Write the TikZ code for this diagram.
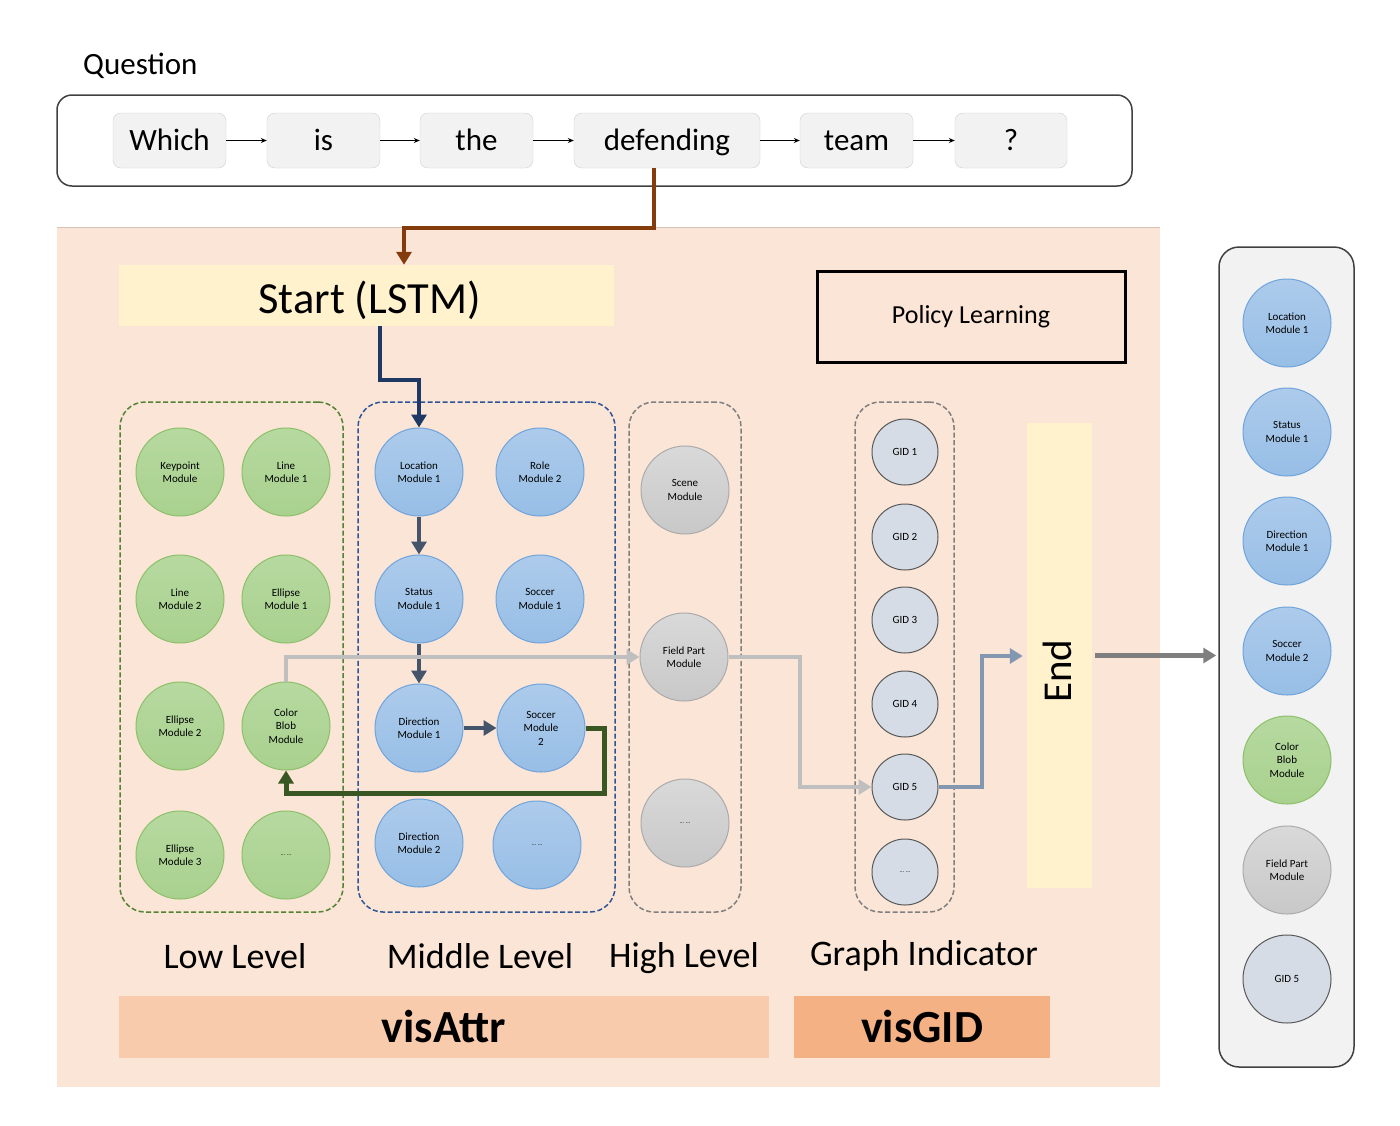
\documentclass[tikz,border=0pt]{standalone}
\usepackage{fontspec}
\setmainfont{Carlito}
\usetikzlibrary{arrows.meta,calc}
\definecolor{peach}{HTML}{FBE5D6}
\definecolor{lyellow}{HTML}{FFF2CC}
\definecolor{wordfill}{HTML}{F2F2F2}
\definecolor{wordline}{HTML}{D0D0D0}
\definecolor{qline}{HTML}{404040}
\definecolor{brownc}{HTML}{843C0C}
\definecolor{navyc}{HTML}{203864}
\definecolor{slatec}{HTML}{44546A}
\definecolor{greenc}{HTML}{385723}
\definecolor{lgray}{HTML}{BFBFBF}
\definecolor{bgray}{HTML}{8497B0}
\definecolor{dgray}{HTML}{7F7F7F}
\definecolor{gfill}{HTML}{A9D18E}
\definecolor{gfilltop}{HTML}{B6D9A0}
\definecolor{gline}{HTML}{8CC06A}
\definecolor{bfill}{HTML}{97BEE6}
\definecolor{bfilltop}{HTML}{ADCBEB}
\definecolor{bline}{HTML}{6FA4DC}
\definecolor{cfill}{HTML}{C8C8C8}
\definecolor{cfilltop}{HTML}{D9D9D9}
\definecolor{cline}{HTML}{ABABAB}
\definecolor{gidfill}{HTML}{D6DCE5}
\definecolor{gidline}{HTML}{595959}
\definecolor{dgreen}{HTML}{548235}
\definecolor{dblue}{HTML}{2F5597}
\definecolor{attrc}{HTML}{F8CBAD}
\definecolor{gidc}{HTML}{F4B183}
\definecolor{panelc}{HTML}{F2F2F2}
\begin{document}
\begin{tikzpicture}[x=1pt,y=-1pt,
  wordbox/.style={draw=wordline,fill=wordfill,rounded corners=8,minimum height=55,inner sep=0,text height=24,text depth=4,font=\fontsize{31}{36}\selectfont},
  warrow/.style={-{Stealth[length=6,width=5]},line width=1},
  modc/.style={circle,minimum size=88,inner sep=0,align=center,line width=1,font=\fontsize{11}{13.5}\selectfont},
  greenm/.style={modc,draw=gline,top color=gfilltop,bottom color=gfill},
  bluem/.style={modc,draw=bline,top color=bfilltop,bottom color=bfill},
  graym/.style={modc,draw=cline,top color=cfilltop,bottom color=cfill},
  gidm/.style={circle,minimum size=66,inner sep=0,draw=gidline,fill=gidfill,line width=1,font=\fontsize{11}{13}\selectfont},
  group/.style={rounded corners=25,dashed,dash pattern=on 5 off 2.5,line width=1.5,minimum height=510,inner sep=0},
  thickarrow/.style={line width=4,-{Triangle[length=13,width=15]}},
  lvl/.style={font=\fontsize{36}{42}\selectfont},
  barlbl/.style={font=\fontsize{46}{52}\selectfont\bfseries,inner sep=0,minimum height=62}
]
\useasboundingbox (0,0) rectangle (1400,1125);

% Question
\node[anchor=west,font=\fontsize{31}{36}\selectfont,inner sep=0] (qlabel) at (83,66) {Question};
\node[draw=qline,line width=1.5,rounded corners=15,fill=white,minimum width=1075,minimum height=91,inner sep=0] (qbox) at (594.5,140.5) {};
\node[wordbox,minimum width=113] (w1) at (169.5,140.5) {Which};
\node[wordbox,minimum width=113] (w2) at (323.5,140.5) {is};
\node[wordbox,minimum width=113] (w3) at (476.5,140.5) {the};
\node[wordbox,minimum width=186] (w4) at (667,140.5) {defending};
\node[wordbox,minimum width=113] (w5) at (856.5,140.5) {team};
\node[wordbox,minimum width=112] (w6) at (1011,140.5) {?};
\draw[warrow] (w1) -- (w2);
\draw[warrow] (w2) -- (w3);
\draw[warrow] (w3) -- (w4);
\draw[warrow] (w4) -- (w5);
\draw[warrow] (w5) -- (w6);

% main background
\node[fill=peach,minimum width=1103,minimum height=859,inner sep=0] (main) at (608.5,657.5) {};
\draw[color=peach!85!black,line width=0.8] (main.north west) -- (main.north east);

% start and policy
\node[fill=lyellow,minimum width=495,minimum height=61,inner sep=0] (start) at (366.5,295.5) {};
\node[font=\fontsize{44.5}{50}\selectfont,inner sep=0,anchor=base] (starttxt) at (369.5,313) {Start (LSTM)};
\node[draw=black,line width=3,minimum width=308,minimum height=91,inner sep=0,font=\fontsize{26}{30}\selectfont] (policy) at (971,316.5) {Policy Learning};

% brown arrow
\coordinate (bt1) at (654,228);
\coordinate (bt2) at (404,228);
\draw[brownc,line width=4,-{Triangle[length=13,width=15]}] (w4.south -| bt1) -- (bt1) -- (bt2) -- (bt2 |- start.north);

% groups
\node[group,draw=dgreen,minimum width=223] (low) at (231.5,657) {};
\node[group,draw=dblue,minimum width=257] (mid) at (486.5,657) {};
\node[group,draw=dgray,minimum width=112] (high) at (685,657) {};
\node[group,draw=dgray,minimum width=99] (gidg) at (904.5,657) {};

% low level
\node[greenm] (kp) at (180,472) {Keypoint\\Module};
\node[greenm] (lm1) at (286,472) {Line\\Module 1};
\node[greenm] (lm2) at (180,599) {Line\\Module 2};
\node[greenm] (em1) at (286,599) {Ellipse\\Module 1};
\node[greenm] (em2) at (180,726) {Ellipse\\Module 2};
\node[greenm] (cb) at (286,726) {Color\\Blob\\Module};
\node[greenm] (em3) at (180,855) {Ellipse\\Module 3};
\node[greenm,font=\fontsize{6}{7}\selectfont] (gd) at (286,855) {... ...};

% middle level
\node[bluem] (loc1) at (419,472) {Location\\Module 1};
\node[bluem] (role2) at (540,472) {Role\\Module 2};
\node[bluem] (stat1) at (419,599) {Status\\Module 1};
\node[bluem] (soc1) at (540,599) {Soccer\\Module 1};
\node[bluem] (dir1) at (419,728) {Direction\\Module 1};
\node[bluem] (soc2) at (541,728) {Soccer\\Module\\2};
\node[bluem] (dir2) at (419,843) {Direction\\Module 2};
\node[bluem,font=\fontsize{6}{7}\selectfont] (bd) at (537,845) {... ...};

% high level
\node[graym] (scene) at (685,490) {Scene\\Module};
\node[graym] (fp) at (684,657) {Field Part\\Module};
\node[graym,font=\fontsize{6}{7}\selectfont] (hd) at (685,823) {... ...};

% GIDs
\node[gidm] (gid1) at (905,452) {GID 1};
\node[gidm] (gid2) at (905,537) {GID 2};
\node[gidm] (gid3) at (905,620) {GID 3};
\node[gidm] (gid4) at (905,704) {GID 4};
\node[gidm] (gid5) at (905,787) {GID 5};
\node[gidm,font=\fontsize{6}{7}\selectfont] (gidd) at (905,872) {... ...};

% End
\node[fill=lyellow,minimum width=65,minimum height=465,inner sep=0] (endbox) at (1059.5,655.5) {};
\node[rotate=90,font=\fontsize{41}{46}\selectfont,inner sep=0] (endtxt) at (1057,671) {End};

% navy arrow
\coordinate (nv) at (380,380);
\draw[navyc,line width=4,-{Triangle[length=13,width=15]}] (start.south -| nv) -- (nv) -| (loc1.north);

% slate arrows
\draw[slatec,thickarrow] (loc1) -- (stat1);
\draw[slatec,thickarrow] (stat1) -- (dir1);
\draw[slatec,thickarrow] (dir1) -- (soc2);

% green loop
\coordinate (g1) at (604,793);
\draw[greenc,line width=5,-{Triangle[length=13,width=15]}] (soc2.east) -| (g1) -| (cb.south);

% gray arrows
\draw[lgray,line width=4,-{Triangle[length=13,width=15]}] (cb.north) |- (fp.west);
\coordinate (gr2) at (800,787);
\draw[lgray,line width=4,-{Triangle[length=13,width=15]}] (fp.east) -| (gr2) -- (gid5.west);

% blue-gray arrow
\coordinate (bg) at (982,656);
\draw[bgray,line width=4,-{Triangle[length=13,width=15]},shorten >=4] (gid5.east) -| (bg) -- (bg -| endbox.west);

% labels
\node[lvl] (lowl) at (235,956) {Low Level};
\node[lvl] (midl) at (480,956) {Middle Level};
\node[lvl] (highl) at (684,958) {High Level};
\node[lvl] (gidl) at (924,956) {Graph Indicator};
\node[barlbl,fill=attrc,minimum width=650] (attr) at (444,1027) {visAttr};
\node[barlbl,fill=gidc,minimum width=256] (visgid) at (922,1027) {visGID};

% right panel
\node[draw=qline,line width=1.5,rounded corners=20,fill=panelc,minimum width=135,minimum height=820,inner sep=0] (panel) at (1286.5,657) {};
\node[bluem] (r1) at (1287,323) {Location\\Module 1};
\node[bluem] (r2) at (1287,432) {Status\\Module 1};
\node[bluem] (r3) at (1287,541) {Direction\\Module 1};
\node[bluem] (r4) at (1287,651) {Soccer\\Module 2};
\node[greenm] (r5) at (1287,760) {Color\\Blob\\Module};
\node[graym] (r6) at (1287,870) {Field Part\\Module};
\node[gidm,minimum size=88] (r7) at (1287,979) {GID 5};

% output arrow
\draw[dgray,line width=5,-{Triangle[length=13,width=15]},shorten <=3,shorten >=2] (endbox.east) -- (panel.west |- endbox.east);
\end{tikzpicture}
\end{document}
